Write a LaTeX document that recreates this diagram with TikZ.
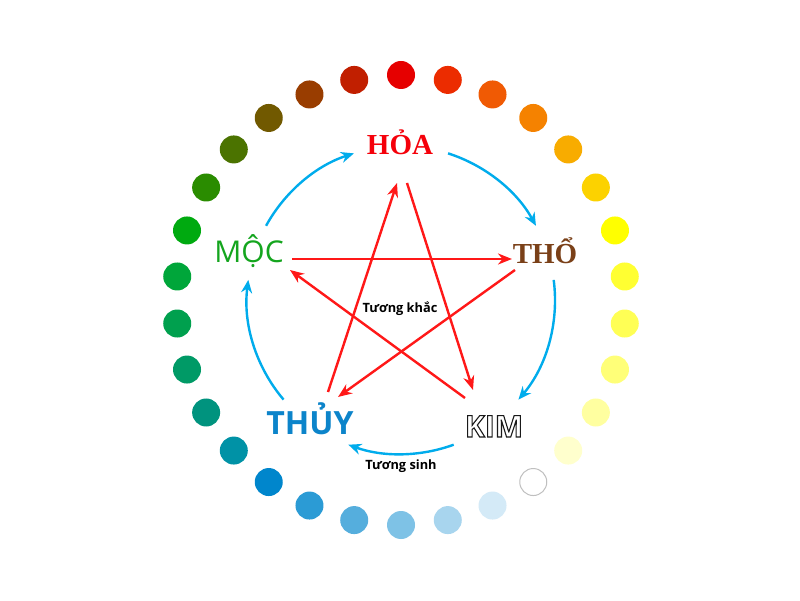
\documentclass[tikz,border=0pt]{standalone}
\usepackage{fontspec}
\setmainfont{Open Sans}
\newfontfamily\hanfont{Liberation Serif}
\usetikzlibrary{arrows.meta}

\definecolor{sinhcol}{RGB}{0,172,236}
\definecolor{khaccol}{RGB}{255,24,24}
\definecolor{hoacol}{RGB}{245,0,10}
\definecolor{moccol}{RGB}{20,165,30}
\definecolor{thocol}{RGB}{122,64,24}
\definecolor{thuycol}{RGB}{12,132,202}

% hollow letters: stroke the outline only
\newcommand\hollow[1]{%
  \special{pdf:literal direct 1 Tr 1.1 w 0.1 G}#1\special{pdf:literal direct 0 Tr 0.4 w}}

\begin{document}
\begin{tikzpicture}[
x=1pt, y=1pt,
element/.style={
  inner sep=0pt,
  anchor=base
  },
sinh/.style={
  draw=sinhcol,
  line width=2.4pt,
  -{Stealth[length=13pt,width=11pt]}
  },
khac/.style={
  draw=khaccol,
  line width=2.4pt,
  -{Stealth[length=14pt,width=11pt]}
  },
note/.style={
  inner sep=0pt,
  font=\bfseries\fontsize{12.8}{13}\selectfont
  }
]
\fill[white] (0,0) rectangle (800,600);
\useasboundingbox (0,0) rectangle (800,600);
\coordinate (c) at (401,300);

% ring of dots
\foreach \r/\g/\b [count=\i from 0] in {230/0/0, 236/44/0, 240/90/4, 245/130/0, 248/172/0,
  252/210/0, 255/255/0, 255/255/50, 255/255/85, 255/255/120, 255/255/160, 255/255/205,
  255/255/255, 212/234/247, 168/213/238, 126/194/230, 85/174/221, 43/155/213, 0/134/204,
  0/146/166, 0/147/126, 0/154/102, 0/160/78, 0/166/58, 0/170/16, 42/140/0, 75/115/0,
  113/89/0, 153/61/0, 193/31/0}
{
  \definecolor{dotcol}{RGB}{\r,\g,\b}
  \fill[dotcol] (c) ++(90-12*\i:225) circle[radius=14];
}
\draw[gray!50, line width=1pt] (c) ++(-54:225) circle[radius=13.5];

% the five elements
\node[element, font=\hanfont\bfseries\fontsize{29}{29}\selectfont, text=hoacol] (hoa) at (400,445) {HỎA};
\node[element, font=\fontsize{30}{30}\selectfont, text=moccol] (moc) at (249,337) {MỘC};
\node[element, font=\hanfont\bfseries\fontsize{29}{29}\selectfont, text=thocol] (tho) at (545,336) {THỔ};
\node[element, font=\bfseries\fontsize{32}{32}\selectfont, text=thuycol] (thuy) at (310,165) {THỦY};
\node[element, font=\bfseries\fontsize{30}{30}\selectfont] (kim) at (494,163) {\hollow{KIM}};

\node[note] (khacnote) at (400,291) {Tương khắc};
\node[note] (sinhnote) at (401,134) {Tương sinh};

% Tuong sinh circle
\foreach \a/\b [count=\k] in {151.2/107.8, 72.2/28.8, 7.5/-40.3, -70/-110, 220.3/172.5}
{
  \path (c) ++(\a:154) coordinate (s\k);
  \draw[sinh] (s\k) arc[start angle=\a, end angle=\b, radius=154];
}

% Tuong khac star
\draw[khac] ([shift={(43,4)}]moc.base) -- ([shift={(-33,5)}]tho.base);
\draw[khac] ([shift={(18,43)}]thuy.base) -- ([shift={(-3,-28)}]hoa.base);
\draw[khac] ([shift={(7,-28)}]hoa.base) -- ([shift={(-21,47)}]kim.base);
\draw[khac] ([shift={(-29,39)}]kim.base) -- ([shift={(41,-7)}]moc.base);
\draw[khac] ([shift={(-30,-6)}]tho.base) -- ([shift={(28,38)}]thuy.base);
\end{tikzpicture}
\end{document}
